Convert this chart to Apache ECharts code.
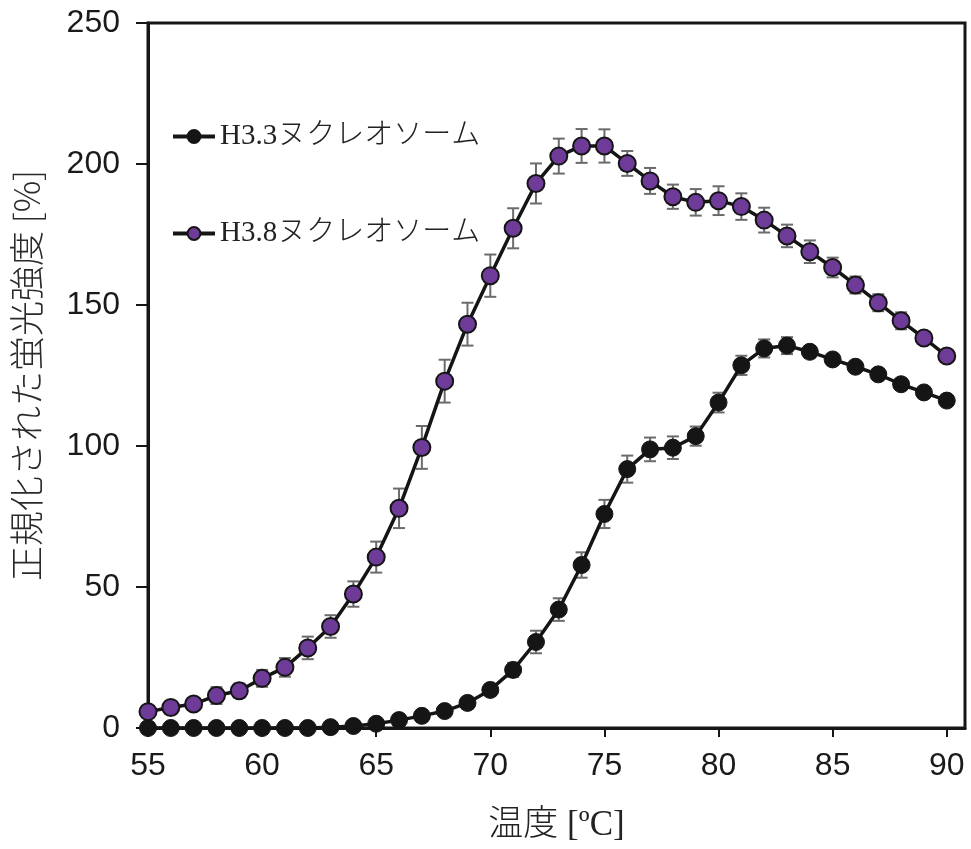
<!DOCTYPE html>
<html><head><meta charset="utf-8">
<script src="https://cdn.jsdelivr.net/npm/echarts@6/dist/echarts.min.js"></script>
<style>html,body{margin:0;padding:0;background:#fff}#c{width:971px;height:849px}</style>
</head><body><div id="c"></div>
<script>
const temps = [55,56,57,58,59,60,61,62,63,64,65,66,67,68,69,70,71,72,73,74,75,76,77,78,79,80,81,82,83,84,85,86,87,88,89,90];
const h33 = [0,0,0,0,0,0,0,0,0.3,0.7,1.5,2.8,4.3,6,8.9,13.5,20.6,30.5,42,57.8,75.9,91.8,98.8,99.4,103.5,115.4,128.6,134.6,135.6,133.4,130.7,128.1,125.4,121.9,119,116.1];
const h33Err = [0,0,0,0,0,0,0,0,0.3,0.5,0.5,1,1,1.5,2,2,2.5,4,4,4.5,5,4.8,4.2,4,3.4,3.5,3.4,3.2,3,2,1.5,1,1,1,1,1];
const h38 = [5.8,7.3,8.5,11.5,13.2,17.6,21.5,28.4,36,47.5,60.6,77.9,99.5,123,143.2,160.4,177.2,193.1,202.8,206.4,206.4,200.2,194,188.4,186.4,187,184.9,180.1,174.5,168.9,163.3,157.1,150.8,144.4,138.3,131.9];
const h38Err = [1,1.5,1.5,3,2.5,3,3.3,4,4,4.5,5.5,7,7.6,7.6,7.6,7.5,7.1,7.1,6.2,6,5.9,4.4,4.6,4.3,4.7,5.1,4.7,4.4,4,4,3.5,3,3,3,2,2];
const seriesNames = ['H3.3ヌクレオソーム','H3.8ヌクレオソーム'];
const xTitle = '温度 [ºC]';
const yTitle = '正規化された蛍光強度 [%]';

function errData(vals, errs){ return temps.map((t,i)=>[t, vals[i]-errs[i], vals[i]+errs[i]]); }
function errSeries(vals, errs){
  return {
    type:'custom', silent:true, clip:false, z:1,
    data: errData(vals, errs),
    renderItem: function(params, api){
      const x = api.value(0), lo = api.value(1), hi = api.value(2);
      const pLo = api.coord([x, lo]), pHi = api.coord([x, hi]);
      const w = 6;
      const st = {stroke:'#6b6b6b', lineWidth:2};
      return {type:'group', children:[
        {type:'line', shape:{x1:pLo[0],y1:pLo[1],x2:pHi[0],y2:pHi[1]}, style:st},
        {type:'line', shape:{x1:pLo[0]-w,y1:pLo[1],x2:pLo[0]+w,y2:pLo[1]}, style:st},
        {type:'line', shape:{x1:pHi[0]-w,y1:pHi[1],x2:pHi[0]+w,y2:pHi[1]}, style:st}
      ]};
    }
  };
}
const chart = echarts.init(document.getElementById('c'));
chart.setOption({
  animation:false,
  grid:{left:148, top:23, right:6, bottom:121, show:true, borderColor:'#161616', borderWidth:3, backgroundColor:'transparent'},
  legend:{
    orient:'vertical', left:166, top:117, itemWidth:42, itemHeight:16, itemGap:68,
    data: seriesNames,
    lineStyle:{width:4},
    textStyle:{fontFamily:'Liberation Serif, "Noto Sans CJK JP"', fontSize:29, color:'#222', fontWeight:300}
  },
  xAxis:{
    type:'value', min:55, max:90.8, interval:5,
    axisLine:{show:true, lineStyle:{color:'#161616', width:3}},
    axisTick:{show:true, inside:false, length:9, lineStyle:{color:'#161616', width:2}},
    axisLabel:{margin:22, fontSize:32, color:'#1a1a1a', fontFamily:'Liberation Sans, Arial', showMaxLabel:false,
      formatter: v => (v % 5 === 0 ? String(v) : '')},
    splitLine:{show:false},
    name:xTitle, nameLocation:'middle', nameGap:80,
    nameTextStyle:{fontSize:35, color:'#222', fontFamily:'Liberation Serif, "Noto Sans CJK JP"', fontWeight:300}
  },
  yAxis:{
    type:'value', min:0, max:250, interval:50,
    axisLine:{show:true, lineStyle:{color:'#161616', width:3}},
    axisTick:{show:true, inside:false, length:12, lineStyle:{color:'#161616', width:2}},
    axisLabel:{margin:28, fontSize:32, color:'#1a1a1a', fontFamily:'Liberation Sans, Arial'},
    splitLine:{show:false},
    name:yTitle, nameLocation:'middle', nameGap:104, nameRotate:90,
    nameTextStyle:{fontSize:35, color:'#2a2a2a', fontFamily:'"Noto Sans CJK JP"', fontWeight:300}
  },
  series:[
    errSeries(h33, h33Err),
    {
      name:seriesNames[0], type:'line', clip:false, z:3,
      data: temps.map((t,i)=>[t,h33[i]]),
      symbol:'circle', symbolSize:17,
      lineStyle:{color:'#151515', width:3.5},
      itemStyle:{color:'#151515', borderColor:'#151515', borderWidth:1}
    },
    errSeries(h38, h38Err),
    {
      name:seriesNames[1], type:'line', clip:false, z:4,
      data: temps.map((t,i)=>[t,h38[i]]),
      symbol:'circle', symbolSize:17,
      lineStyle:{color:'#151515', width:3.5},
      itemStyle:{color:'#6e3b98', borderColor:'#151515', borderWidth:2}
    }
  ]
});
</script></body></html>
